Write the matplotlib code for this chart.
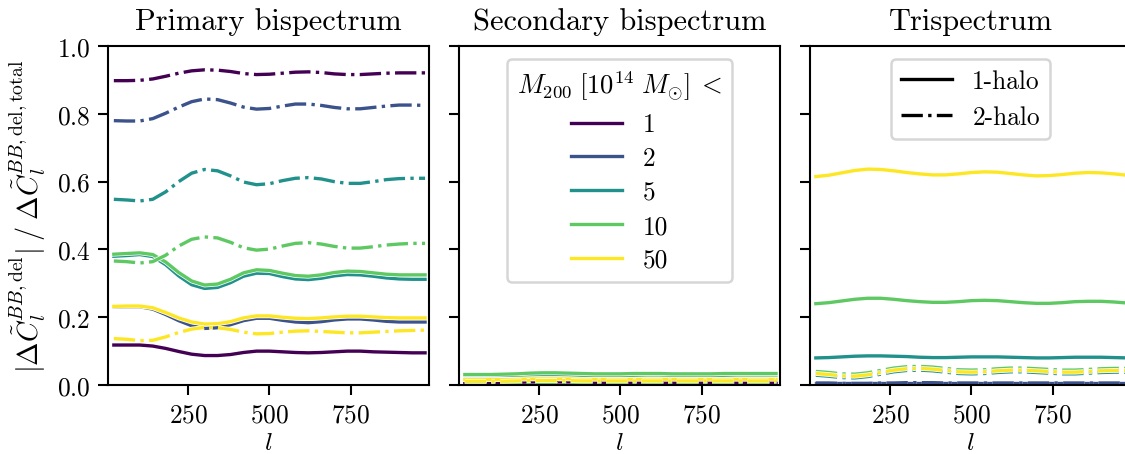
import numpy as np
import matplotlib
matplotlib.use("Agg")
import matplotlib.pyplot as plt
import matplotlib.patheffects as pe
from matplotlib.lines import Line2D

plt.rcParams.update({
    "font.family": "serif",
    "font.serif": ["cmr10"],
    "mathtext.fontset": "cm",
    "axes.unicode_minus": False,
    "axes.formatter.use_mathtext": True,
    "font.size": 12.2,
    "axes.linewidth": 1.0,
    "xtick.major.width": 1.0,
    "ytick.major.width": 1.0,
    "xtick.major.size": 5.0,
    "ytick.major.size": 5.0,
    "legend.fontsize": 12.2,
    "legend.title_fontsize": 12.8,
    "patch.linewidth": 1.2,
})

# multipoles the ratios are sampled at
ells = [20, 60, 100, 140, 180, 220, 260, 300, 340, 380, 420, 460, 500,
        540, 580, 620, 660, 700, 740, 780, 820, 860, 900, 940, 980]

mass_cuts = ["1", "2", "5", "10", "50"]
colors = ["#440154", "#3b528b", "#21918c", "#5ec962", "#fde725"]

# primary bispectrum, one row per mass cut (1, 2, 5, 10, 50)
prim_1h = [
    [.118, .118, .118, .115, .108, .099, .091, .087, .087, .090, .096, .100, .100,
     .098, .096, .095, .096, .098, .100, .100, .098, .097, .096, .095, .095],
    [.230, .231, .231, .224, .208, .190, .175, .167, .169, .178, .190, .197, .197,
     .191, .186, .184, .187, .192, .195, .195, .192, .188, .186, .186, .186],
    [.380, .382, .385, .379, .355, .322, .296, .285, .288, .302, .321, .330, .329,
     .320, .313, .311, .315, .322, .326, .325, .321, .316, .313, .312, .312],
    [.386, .388, .390, .385, .363, .332, .307, .295, .298, .312, .331, .340, .338,
     .330, .323, .321, .325, .332, .336, .335, .331, .327, .325, .325, .325],
    [.232, .233, .233, .228, .214, .198, .186, .180, .181, .187, .198, .204, .204,
     .200, .197, .196, .198, .201, .203, .203, .201, .199, .198, .198, .198],
]
prim_2h = [
    [.898, .898, .899, .903, .911, .920, .927, .930, .929, .925, .919, .916, .917,
     .920, .923, .924, .922, .918, .916, .916, .918, .920, .921, .921, .921],
    [.780, .779, .779, .786, .802, .820, .836, .844, .842, .832, .820, .814, .816,
     .823, .829, .829, .825, .819, .815, .815, .819, .823, .826, .826, .825],
    [.548, .546, .543, .548, .570, .600, .625, .636, .632, .617, .599, .591, .594,
     .603, .610, .612, .608, .600, .595, .595, .600, .606, .609, .610, .610],
    [.366, .364, .360, .364, .383, .410, .430, .437, .434, .421, .405, .398, .401,
     .410, .418, .420, .416, .409, .404, .404, .408, .413, .416, .418, .418],
    [.137, .135, .131, .132, .142, .155, .165, .170, .169, .164, .156, .151, .152,
     .156, .159, .160, .158, .156, .154, .154, .156, .158, .160, .161, .162],
]

# secondary bispectrum
sec_1h = [
    [.008, .008, .008, .008, .008, .009, .009, .009, .009, .009, .008, .008, .008,
     .008, .008, .008, .008, .008, .008, .008, .008, .008, .008, .008, .008],
    [.022, .022, .022, .022, .023, .024, .024, .024, .023, .023, .022, .022, .022,
     .022, .023, .023, .022, .022, .022, .022, .022, .022, .022, .022, .022],
    [.027, .027, .027, .028, .029, .030, .031, .031, .030, .029, .029, .029, .029,
     .029, .030, .030, .029, .029, .029, .029, .029, .030, .030, .030, .030],
    [.031, .031, .031, .032, .033, .035, .036, .036, .035, .034, .033, .033, .033,
     .034, .034, .034, .033, .033, .033, .033, .034, .034, .034, .034, .034],
    [.016, .016, .016, .016, .017, .018, .018, .018, .018, .017, .017, .017, .017,
     .017, .017, .017, .017, .017, .017, .017, .017, .017, .017, .017, .017],
]
sec_2h = [
    [.002, .002, .002, .002, .002, .002, .002, .002, .002, .002, .002, .002, .002,
     .002, .002, .002, .002, .002, .002, .002, .002, .002, .002, .002, .002],
    [.003, .003, .003, .003, .003, .003, .003, .003, .003, .003, .003, .003, .003,
     .003, .003, .003, .003, .003, .003, .003, .003, .003, .003, .003, .003],
    [.004, .004, .004, .004, .004, .005, .005, .005, .005, .004, .004, .004, .004,
     .004, .004, .004, .004, .004, .004, .004, .004, .004, .004, .004, .004],
    [.006, .006, .006, .006, .006, .007, .007, .007, .007, .006, .006, .006, .006,
     .006, .006, .006, .006, .006, .006, .006, .006, .006, .006, .006, .006],
    [.011, .011, .011, .011, .012, .013, .013, .013, .013, .012, .012, .012, .012,
     .012, .012, .012, .012, .012, .012, .012, .012, .012, .012, .012, .012],
]

# trispectrum
tri_1h = [
    [.003, .003, .003, .003, .003, .003, .003, .003, .003, .003, .003, .003, .003,
     .003, .003, .003, .003, .003, .003, .003, .003, .003, .003, .003, .003],
    [.006, .006, .006, .006, .006, .006, .006, .006, .006, .006, .006, .006, .006,
     .006, .006, .006, .006, .006, .006, .006, .006, .006, .006, .006, .006],
    [.080, .081, .083, .085, .086, .086, .085, .084, .082, .081, .081, .082, .083,
     .083, .083, .082, .081, .080, .080, .081, .082, .082, .082, .081, .080],
    [.240, .243, .248, .253, .256, .256, .253, .249, .246, .244, .244, .246, .249,
     .250, .249, .246, .243, .241, .241, .243, .246, .247, .247, .245, .242],
    [.615, .619, .626, .633, .637, .636, .632, .627, .623, .620, .620, .623, .627,
     .629, .628, .624, .620, .617, .618, .621, .625, .627, .626, .623, .619],
]
tri_2h = [
    [.003, .003, .003, .003, .003, .003, .003, .004, .004, .004, .004, .004, .004,
     .004, .004, .004, .004, .004, .004, .004, .004, .004, .004, .004, .004],
    [.006, .006, .005, .005, .005, .006, .006, .007, .007, .007, .006, .006, .006,
     .006, .006, .006, .006, .006, .006, .006, .006, .006, .006, .006, .006],
    [.029, .026, .022, .021, .025, .032, .039, .043, .044, .042, .038, .034, .033,
     .034, .037, .039, .039, .037, .035, .033, .033, .035, .037, .038, .038],
    [.040, .037, .033, .032, .036, .043, .050, .054, .055, .053, .049, .045, .044,
     .045, .048, .050, .050, .048, .046, .044, .044, .046, .048, .049, .049],
    [.034, .031, .027, .026, .030, .037, .044, .048, .049, .047, .043, .039, .038,
     .039, .042, .044, .044, .042, .040, .038, .038, .040, .042, .043, .043],
]

titles = ["Primary bispectrum", "Secondary bispectrum", "Trispectrum"]
panels = [(prim_1h, prim_2h), (sec_1h, sec_2h), (tri_1h, tri_2h)]

fig = plt.figure(figsize=(7.5, 3.033), dpi=150)
lefts = [0.096, 0.408, 0.72]
axes = []
for i, left in enumerate(lefts):
    ax = fig.add_axes([left, 0.1516, 0.2853, 0.745], sharey=axes[0] if axes else None)
    axes.append(ax)

# thin white outline so overlapping curves stay separable
halo = [pe.Stroke(linewidth=2.3, foreground="white"), pe.Normal()]

for ax, title, (one_h, two_h) in zip(axes, titles, panels):
    for c, y1, y2 in zip(colors, one_h, two_h):
        ax.plot(ells, y1, color=c, ls="-", lw=1.6, path_effects=halo)
        ax.plot(ells, y2, color=c, ls="-.", lw=1.6, path_effects=halo)
    ax.set_title(title, pad=8)
    ax.set_xlabel(r"$l$", labelpad=2)
    ax.set_xlim(2, 992)
    ax.set_xticks([250, 500, 750])

axes[0].set_ylim(0, 1)
axes[0].set_ylabel(r"$|\Delta\tilde{C}_l^{BB,\mathrm{del}}|\;/\;\Delta\tilde{C}_l^{BB,\mathrm{del,total}}$",
                   fontsize=13.5, labelpad=4)
for ax in axes[1:]:
    ax.tick_params(labelleft=False)

mass_handles = [Line2D([], [], color=c, lw=1.6) for c in colors]
axes[1].legend(mass_handles, mass_cuts, loc="upper center", labelspacing=0.4,
               title=r"$M_{200}\;[10^{14}\;M_{\odot}]\;<$")

halo_handles = [Line2D([], [], color="k", ls="-", lw=1.6),
                Line2D([], [], color="k", ls="-.", lw=1.6)]
axes[2].legend(halo_handles, ["1-halo", "2-halo"], loc="upper center")

fig.savefig("out.png", dpi=150)
